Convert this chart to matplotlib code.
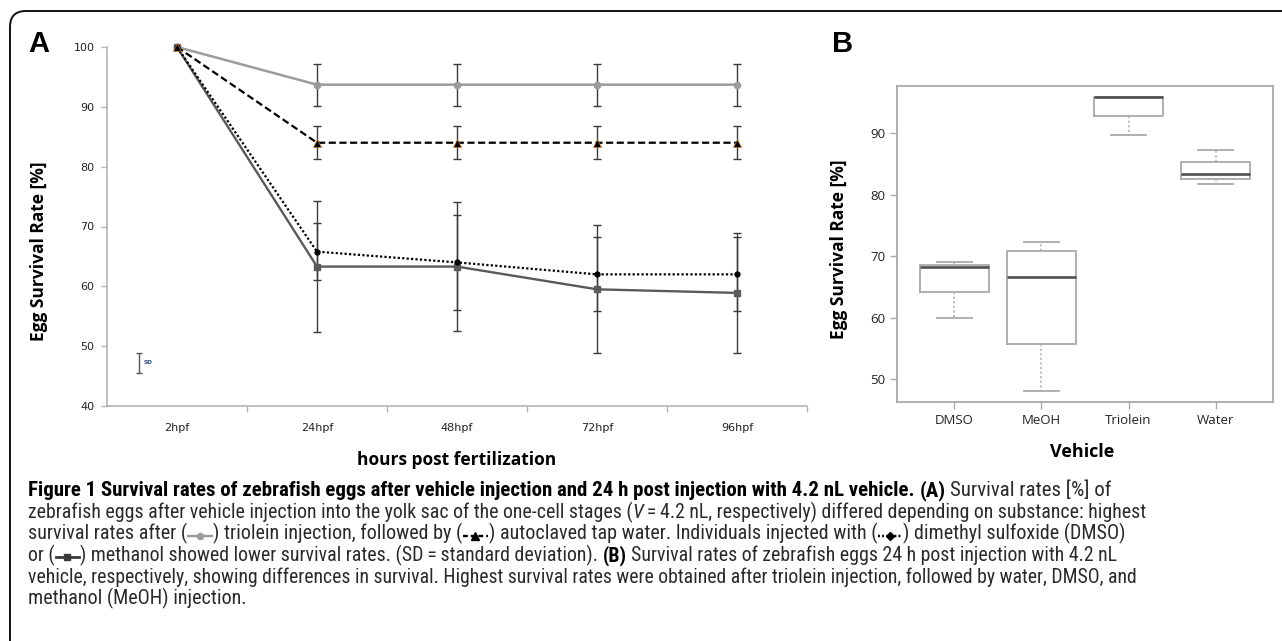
import matplotlib
matplotlib.use('Agg')
import matplotlib.pyplot as plt
from matplotlib import font_manager
from matplotlib.patches import FancyBboxPatch
from matplotlib.lines import Line2D
import matplotlib.transforms as mtrans

W, H, DPI = 1282, 641, 100

# ---------------- data: panel A ----------------
time_labels = ['2hpf', '24hpf', '48hpf', '72hpf', '96hpf']
triolein_mean = [100, 93.7, 93.7, 93.7, 93.7]
triolein_sd = [0, 3.5, 3.5, 3.5, 3.5]
water_mean = [100, 84.0, 84.0, 84.0, 84.0]
water_sd = [0, 2.8, 2.8, 2.8, 2.8]
dmso_mean = [100, 65.8, 64.0, 62.0, 62.0]
dmso_sd = [0, 4.8, 7.9, 6.2, 6.2]
meoh_mean = [100, 63.3, 63.3, 59.5, 58.9]
meoh_sd = [0, 10.9, 10.8, 10.7, 10.0]
sd_key_value = 47.15
sd_key_err = 1.65
a_yticks = [40, 50, 60, 70, 80, 90, 100]

# ---------------- data: panel B ----------------
vehicles = ['DMSO', 'MeOH', 'Triolein', 'Water']
whisker_low = [60.0, 48.1, 89.7, 81.7]
q1 = [64.2, 55.8, 92.7, 82.5]
median = [68.3, 66.6, 95.8, 83.3]
q3 = [68.6, 70.9, 95.8, 85.3]
whisker_high = [69.0, 72.3, 95.8, 87.3]
b_yticks = [50, 60, 70, 80, 90]


def pick(cands, default='DejaVu Sans'):
    names = {f.name for f in font_manager.fontManager.ttflist}
    for c in cands:
        if c in names:
            return c
    return default


label_font = pick(['Open Sans', 'Noto Sans', 'DejaVu Sans'])
cap_font = pick(['Liberation Sans Narrow', 'Roboto Condensed', 'Open Sans Condensed', 'Liberation Sans'])

fig = plt.figure(figsize=(W / DPI, H / DPI), dpi=DPI)
fig.patch.set_facecolor('white')


def fx(px):
    return px / W


def fy(py):
    return 1 - py / H


# ---------------- panel A ----------------
axA = fig.add_axes([fx(107), fy(406), fx(807) - fx(107), fy(47) - fy(406)])
x = list(range(len(time_labels)))
ecol = '#3a3a3a'

axA.plot(x, meoh_mean, color='#5a5a5a', lw=1.7, marker='s', ms=5,
         mfc='#5a5a5a', mec='#5a5a5a', clip_on=False, zorder=3)
axA.plot(x, dmso_mean, color='black', lw=1.6, ls=(0, (1, 1)), marker='o', ms=3.5,
         mfc='black', mec='black', clip_on=False, zorder=4)
axA.plot(x, water_mean, color='black', lw=1.6, ls=(0, (3.2, 1.6)), marker='^', ms=5.5,
         mfc='black', mec='#c87a2a', mew=0.5, clip_on=False, zorder=4)
axA.plot(x, triolein_mean, color='#9c9c9c', lw=1.8, marker='o', ms=4.5,
         mfc='#9c9c9c', mec='#9c9c9c', clip_on=False, zorder=3)

for m, s in [(triolein_mean, triolein_sd), (water_mean, water_sd),
             (dmso_mean, dmso_sd), (meoh_mean, meoh_sd)]:
    axA.errorbar(x[1:], m[1:], yerr=s[1:], fmt='none', ecolor=ecol,
                 elinewidth=1.0, capsize=3.2, capthick=1.0, zorder=2)

# SD key
axA.errorbar([-0.27], [sd_key_value], yerr=[sd_key_err], fmt='none', ecolor='#555555',
             elinewidth=1.0, capsize=2.5, capthick=1.0)
axA.text(-0.235, sd_key_value + 0.1, 'SD', fontsize=4.2, fontweight='bold',
         color='#2b4a7a', va='center', ha='left')

axA.set_xlim(-0.5, 4.5)
axA.set_ylim(40, 100)
axA.set_yticks(a_yticks)
axA.set_xticks(x)
axA.set_xticklabels(time_labels)
axA.set_xticks([0.5, 1.5, 2.5, 3.5, 4.5], minor=True)
for sp in ['top', 'right']:
    axA.spines[sp].set_visible(False)
for sp in ['left', 'bottom']:
    axA.spines[sp].set_color('#b5b5b5')
    axA.spines[sp].set_linewidth(1.2)
axA.tick_params(axis='x', which='major', length=0, pad=12, labelsize=8, colors='#222222')
axA.tick_params(axis='x', which='minor', length=4, color='#b5b5b5', width=1.0)
axA.tick_params(axis='y', length=4, color='#b5b5b5', width=1.0, labelsize=8,
                labelcolor='#222222', pad=5)
axA.set_ylabel('Egg Survival Rate [%]', fontsize=12.5, fontweight='bold', family=label_font)
axA.yaxis.set_label_coords(-0.084, 0.43)
axA.set_xlabel('hours post fertilization', fontsize=12.5, fontweight='bold', family=label_font)
axA.xaxis.set_label_coords(0.5, -0.125)

# ---------------- panel B ----------------
axB = fig.add_axes([fx(897), fy(402), fx(1273) - fx(897), fy(85.7) - fy(402)])
stats = []
for i, v in enumerate(vehicles):
    stats.append(dict(whislo=whisker_low[i], q1=q1[i], med=median[i], q3=q3[i],
                      whishi=whisker_high[i], fliers=[], label=v))
gray = '#a9a9a9'
axB.bxp(stats, positions=[1, 2, 3, 4], widths=0.8, showfliers=False,
        boxprops=dict(color=gray, lw=1.3),
        medianprops=dict(color='#505050', lw=1.9),
        whiskerprops=dict(color='#b0b0b0', lw=1.1, ls=(0, (1.5, 1.5))),
        capprops=dict(color=gray, lw=1.3), capwidths=0.4)
axB.set_xlim(0.34, 4.66)
axB.set_ylim(46.3, 97.7)
axB.set_yticks(b_yticks)
for sp in axB.spines.values():
    sp.set_color('#a9a9a9')
    sp.set_linewidth(1.3)
axB.tick_params(axis='both', length=5, color='#a9a9a9', width=1.0, labelsize=9.5,
                labelcolor='#222222')
for lab in axB.get_xticklabels() + axB.get_yticklabels():
    lab.set_family(label_font)
axB.set_ylabel('Egg Survival Rate [%]', fontsize=12.5, fontweight='bold', family=label_font)
axB.yaxis.set_label_coords(-0.130, 0.484)
axB.set_xlabel('Vehicle', fontsize=13, fontweight='bold', family=label_font)
axB.xaxis.set_label_coords(0.492, -0.13)

# panel letters
fig.text(fx(28), fy(52), 'A', fontsize=21, fontweight='bold', family='Liberation Sans',
         ha='left', va='baseline')
fig.text(fx(832), fy(52), 'B', fontsize=21, fontweight='bold', family='Liberation Sans',
         ha='left', va='baseline')

# frame
frame = FancyBboxPatch((10, -30), 1400, H - 11 + 30,
                       boxstyle='round,pad=0,rounding_size=16',
                       transform=mtrans.IdentityTransform(), fill=False,
                       ec='#111111', lw=1.4, clip_on=False)
fig.add_artist(frame)

# ---------------- caption ----------------
renderer = fig.canvas.get_renderer()
TXT = '#2a2a2a'
B_ = 'bold'
N_ = 'normal'


def T(s, w=N_, st='normal', c=TXT):
    return ('t', s, w, st, c)


SP = ('sp',)


def S(kind):
    return ('s', kind, 18)


lines = [
    [T('Figure 1 Survival rates of zebrafish eggs after vehicle injection and 24 h post injection with 4.2 nL vehicle.', B_, c='black'),
     SP, T('(A)', B_, c='black'), SP, T('Survival rates [%] of')],
    [T('zebrafish eggs after vehicle injection into the yolk sac of the one-cell stages ('), T('V', N_, 'italic'),
     T('\u2009=\u20094.2 nL, respectively) differed depending on substance: highest')],
    [T('survival rates after ('), S('tri'), T(') triolein injection, followed by ('), S('wat'),
     T(') autoclaved tap water. Individuals injected with ('), S('dmso'), T(') dimethyl sulfoxide (DMSO)')],
    [T('or ('), S('meoh'), T(') methanol showed lower survival rates. (SD\u2009=\u2009standard deviation).'),
     SP, T('(B)', B_, c='black'), SP, T('Survival rates of zebrafish eggs 24 h post injection with 4.2 nL')],
    [T('vehicle, respectively, showing differences in survival. Highest survival rates were obtained after triolein injection, followed by water, DMSO, and')],
    [T('methanol (MeOH) injection.')],
]
targets = [1111, 1137, 1120, 1112, 1134, None]
baselines = [496, 518, 539.5, 561, 583, 604.5]
X0 = 28


def width_of(s, fs, w, st):
    t = fig.text(0, 0, s, fontsize=fs, fontweight=w, fontstyle=st,
                 family=[cap_font, 'DejaVu Sans'])
    wd = t.get_window_extent(renderer).width
    t.remove()
    return wd


def measure(segs, fs):
    total = 0
    for seg in segs:
        if seg[0] == 't':
            total += width_of(seg[1], fs, seg[2], seg[3])
        elif seg[0] == 'sp':
            total += width_of('x x', fs, N_, 'normal') - width_of('xx', fs, N_, 'normal')
        else:
            total += seg[2] * fs / 10.0
    return total


def draw_sym(kind, xa, xb, yc, fs):
    k = fs / 10.0
    xs = [fx(xa + 1), fx(xb - 1)]
    ys = [fy(yc), fy(yc)]
    xm = [fx((xa + xb) / 2)]
    ym = [fy(yc)]
    if kind == 'tri':
        fig.add_artist(Line2D(xs, ys, color='#9c9c9c', lw=1.2 * k, transform=fig.transFigure))
        fig.add_artist(Line2D(xm, ym, marker='o', ms=3 * k, color='#9c9c9c', transform=fig.transFigure))
    elif kind == 'wat':
        fig.add_artist(Line2D(xs, ys, color='black', lw=1.2 * k, ls=(0, (2, 1.2)), transform=fig.transFigure))
        fig.add_artist(Line2D(xm, ym, marker='^', ms=3.5 * k, color='black', transform=fig.transFigure))
    elif kind == 'dmso':
        fig.add_artist(Line2D(xs, ys, color='black', lw=1.2 * k, ls=(0, (0.8, 0.9)), transform=fig.transFigure))
        fig.add_artist(Line2D(xm, ym, marker='D', ms=3 * k, color='black', transform=fig.transFigure))
    else:
        fig.add_artist(Line2D(xs, ys, color='#3a3a3a', lw=1.4 * k, transform=fig.transFigure))
        fig.add_artist(Line2D(xm, ym, marker='s', ms=3.2 * k, color='#3a3a3a', transform=fig.transFigure))


FS0 = 10.0
scales = []
for segs, tg in zip(lines, targets):
    if tg is not None:
        scales.append((tg - X0) / measure(segs, FS0))
mean_scale = sum(scales) / len(scales)

si = 0
for segs, tg, yb in zip(lines, targets, baselines):
    if tg is not None:
        fs = FS0 * scales[si]
        si += 1
    else:
        fs = FS0 * mean_scale
    xcur = X0
    for seg in segs:
        if seg[0] == 't':
            fig.text(fx(xcur), fy(yb), seg[1], fontsize=fs, fontweight=seg[2], fontstyle=seg[3],
                     color=seg[4], family=[cap_font, 'DejaVu Sans'], ha='left', va='baseline')
            xcur += width_of(seg[1], fs, seg[2], seg[3])
        elif seg[0] == 'sp':
            xcur += width_of('x x', fs, N_, 'normal') - width_of('xx', fs, N_, 'normal')
        else:
            wpx = seg[2] * fs / 10.0
            draw_sym(seg[1], xcur, xcur + wpx, yb - 4, fs)
            xcur += wpx

fig.savefig('out.png', dpi=DPI, facecolor='white')
